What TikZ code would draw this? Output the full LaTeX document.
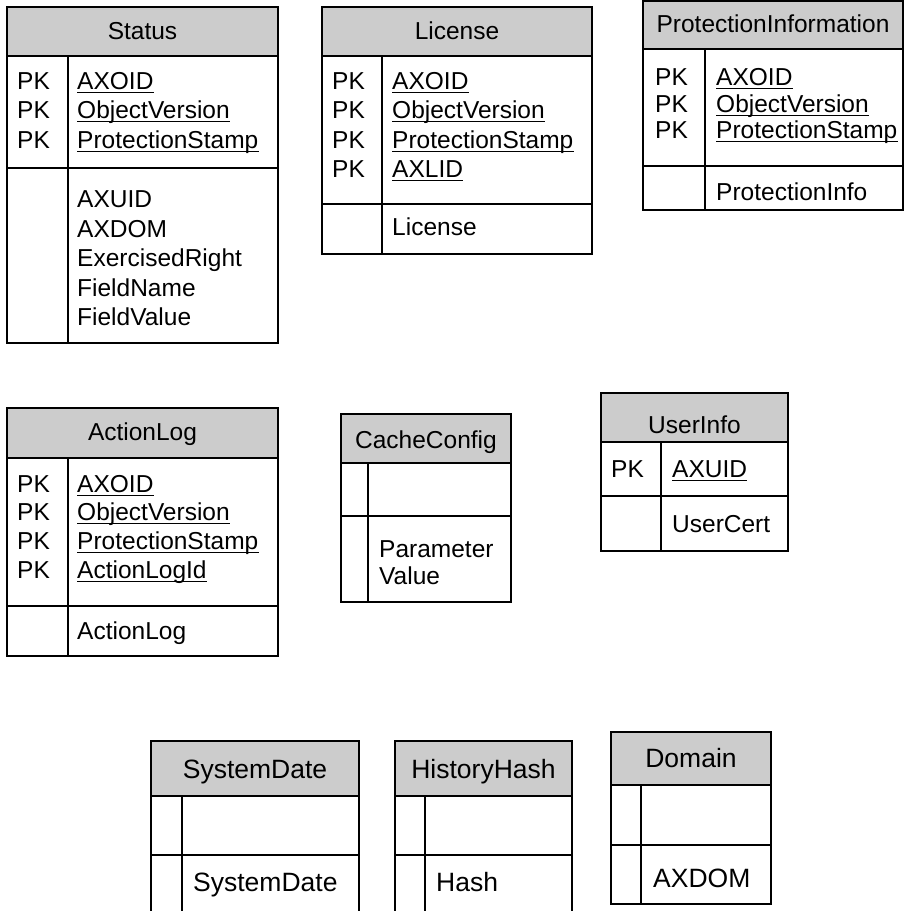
\documentclass[tikz,border=0pt]{standalone}
\usepackage{fontspec}
\setmainfont[Ligatures=NoCommon]{Liberation Sans}
\definecolor{hdrgray}{RGB}{204,204,204}
\newcommand\rowfont{\fontsize{24.5}{28}\selectfont}
\newcommand\bigrowfont{\fontsize{26.5}{30}\selectfont}
% underlined primary-key field: a text node plus a rule under its baseline
\newcommand\keyfield[5][\rowfont]{%
  \node[lbl,font=#1] (#2) at (#3,#4) {#5};
  \draw[uline] ([yshift=-3.5pt]#2.base west) -- ([yshift=-3.5pt]#2.base east);}
% table frame: x1, x2, top, header bottom, key/attribute split, bottom, divider x
\newcommand\tableframe[7]{%
  \draw[hdr] (#1,#3) rectangle (#2,#4);
  \draw[frame] (#1,#4) rectangle (#2,#6);
  \draw[frame] (#1,#5) -- (#2,#5);
  \draw[frame] (#7,#4) -- (#7,#6);}
\tikzset{
  frame/.style={draw=black, line width=1.7pt},
  hdr/.style={frame, fill=hdrgray},
  lbl/.style={anchor=base west, inner sep=0pt, font=\rowfont},
  ttl/.style={anchor=base, inner sep=0pt, font=\rowfont},
  uline/.style={line width=1.3pt},
}
\begin{document}
\begin{tikzpicture}[x=1pt,y=-1pt]
\useasboundingbox[fill=white] (0,0) rectangle (905,911);

% ---------- Status ----------
\tableframe{7}{278}{7}{56}{168}{343}{68}
\node[ttl] (st-t) at (142.5,39) {Status};
\node[lbl] (st-k1) at (17,89) {PK};
\node[lbl] (st-k2) at (17,118) {PK};
\node[lbl] (st-k3) at (17,148) {PK};
\keyfield{st-f1}{77}{89}{AXOID}
\keyfield{st-f2}{77}{118}{ObjectVersion}
\keyfield{st-f3}{77}{148}{ProtectionStamp}
\node[lbl] (st-a1) at (77,207) {AXUID};
\node[lbl] (st-a2) at (77,237) {AXDOM};
\node[lbl] (st-a3) at (77,266) {ExercisedRight};
\node[lbl] (st-a4) at (77,296) {FieldName};
\node[lbl] (st-a5) at (77,325) {FieldValue};

% ---------- License ----------
\tableframe{322}{592}{7}{56}{204}{254}{382}
\node[ttl] (li-t) at (457,39) {License};
\node[lbl] (li-k1) at (332,89) {PK};
\node[lbl] (li-k2) at (332,118) {PK};
\node[lbl] (li-k3) at (332,148) {PK};
\node[lbl] (li-k4) at (332,177) {PK};
\keyfield{li-f1}{392}{89}{AXOID}
\keyfield{li-f2}{392}{118}{ObjectVersion}
\keyfield{li-f3}{392}{148}{ProtectionStamp}
\keyfield{li-f4}{392}{177}{AXLID}
\node[lbl] (li-a1) at (392,235) {License};

% ---------- ProtectionInformation ----------
\tableframe{643}{903}{1}{49}{166}{210}{705}
\node[ttl] (pi-t) at (773,32) {ProtectionInformation};
\node[lbl] (pi-k1) at (655,85) {PK};
\node[lbl] (pi-k2) at (655,112) {PK};
\node[lbl] (pi-k3) at (655,138) {PK};
\keyfield{pi-f1}{716}{85}{AXOID}
\keyfield{pi-f2}{716}{112}{ObjectVersion}
\keyfield{pi-f3}{716}{138}{ProtectionStamp}
\node[lbl] (pi-a1) at (716,200) {ProtectionInfo};

% ---------- ActionLog ----------
\tableframe{7}{278}{408}{458}{606}{656}{68}
\node[ttl] (al-t) at (142.5,440) {ActionLog};
\node[lbl] (al-k1) at (17,492) {PK};
\node[lbl] (al-k2) at (17,520) {PK};
\node[lbl] (al-k3) at (17,549) {PK};
\node[lbl] (al-k4) at (17,578) {PK};
\keyfield{al-f1}{77}{492}{AXOID}
\keyfield{al-f2}{77}{520}{ObjectVersion}
\keyfield{al-f3}{77}{549}{ProtectionStamp}
\keyfield{al-f4}{77}{578}{ActionLogId}
\node[lbl] (al-a1) at (77,639) {ActionLog};

% ---------- CacheConfig ----------
\tableframe{341}{511}{414}{463}{516}{602}{368}
\node[ttl] (cc-t) at (426,448) {CacheConfig};
\node[lbl] (cc-a1) at (379,557) {Parameter};
\node[lbl] (cc-a2) at (379,584) {Value};

% ---------- UserInfo ----------
\tableframe{601}{788}{393}{442}{496}{551}{661}
\node[ttl] (ui-t) at (694.5,433) {UserInfo};
\node[lbl] (ui-k1) at (611,477) {PK};
\keyfield{ui-f1}{672}{477}{AXUID}
\node[lbl] (ui-a1) at (672,532) {UserCert};

% ---------- SystemDate ----------
\tableframe{151}{359}{741}{796}{855}{925}{182}
\node[ttl,font=\bigrowfont] (sd-t) at (255,778) {SystemDate};
\node[lbl,font=\bigrowfont] (sd-a1) at (193,891) {SystemDate};

% ---------- HistoryHash ----------
\tableframe{395}{572}{741}{796}{855}{925}{425}
\node[ttl,font=\bigrowfont] (hh-t) at (483.5,778) {HistoryHash};
\node[lbl,font=\bigrowfont] (hh-a1) at (436,891) {Hash};

% ---------- Domain ----------
\tableframe{611}{771}{732}{785}{845}{904}{641}
\node[ttl,font=\bigrowfont] (dm-t) at (691,767) {Domain};
\node[lbl,font=\bigrowfont] (dm-a1) at (653,887) {AXDOM};
\end{tikzpicture}
\end{document}
